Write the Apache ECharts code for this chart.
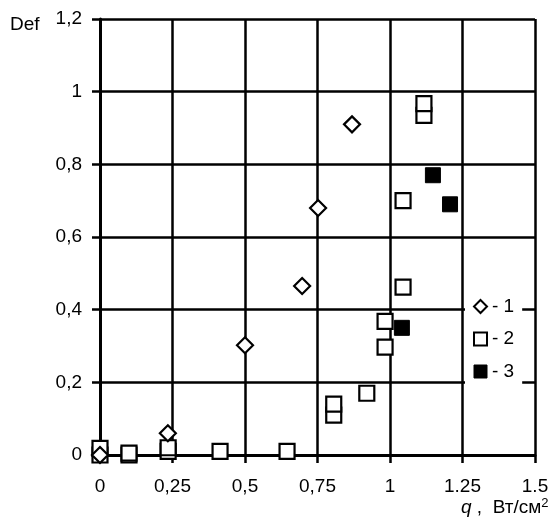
<!DOCTYPE html>
<html>
<head>
<meta charset="utf-8">
<script src="https://cdn.jsdelivr.net/npm/echarts@6/dist/echarts.min.js"></script>
<style>html,body{margin:0;padding:0;background:#fff}#c{width:558px;height:528px}</style>
</head>
<body>
<div id="c"></div>
<script>
var xTickLabels = {"0":"0","0.25":"0,25","0.5":"0,5","0.75":"0,75","1":"1","1.25":"1.25","1.5":"1.5"};
var yTickLabels = {"0":"0","0.2":"0,2","0.4":"0,4","0.6":"0,6","0.8":"0,8","1":"1","1.2":"1,2"};
var seriesNames = ["- 1","- 2","- 3"];
var series1 = [[0,0],[0.234,0.06],[0.5,0.302],[0.697,0.465],[0.752,0.68],[0.869,0.91]];
var series2 = [[0,0],[0,0.018],[0.1,0],[0.1,0.005],[0.235,0.01],[0.235,0.02],[0.414,0.01],[0.645,0.01],[0.806,0.11],[0.806,0.14],[0.92,0.17],[0.983,0.297],[0.983,0.368],[1.045,0.462],[1.045,0.70],[1.117,0.935],[1.117,0.967]];
var series3 = [[1.041,0.35],[1.148,0.77],[1.207,0.69]];

var font = "'Liberation Sans', Arial, sans-serif";
var fs = 19;
function key(v){return String(Math.round(v*100)/100);}
var chart = echarts.init(document.getElementById('c'), null, {renderer:'canvas'});
chart.setOption({
  animation:false,
  backgroundColor:'#fff',
  grid:{left:100,right:23,top:19,bottom:73,containLabel:false},
  xAxis:{
    type:'value',min:0,max:1.5,interval:0.25,
    axisLine:{show:true,onZero:false,lineStyle:{color:'#000',width:3}},
    axisTick:{show:true,inside:false,length:8,lineStyle:{color:'#000',width:2.5}},
    axisLabel:{margin:22,color:'#000',fontSize:fs,fontFamily:font,formatter:function(v){return xTickLabels[key(v)]||'';}},
    splitLine:{show:true,lineStyle:{color:'#000',width:2.5}}
  },
  yAxis:{
    type:'value',min:0,max:1.2,interval:0.2,
    axisLine:{show:true,onZero:false,lineStyle:{color:'#000',width:3}},
    axisTick:{show:true,inside:false,length:8,lineStyle:{color:'#000',width:2.5}},
    axisLabel:{margin:18,color:'#000',fontSize:fs,fontFamily:font,formatter:function(v){return yTickLabels[key(v)]||'';}},
    splitLine:{show:true,lineStyle:{color:'#000',width:2.5}}
  },
  legend:{
    orient:'vertical',left:465,top:289,padding:[8,8,8,8],
    backgroundColor:'#fff',itemWidth:13,itemHeight:13,itemGap:13.5,
    textStyle:{color:'#000',fontSize:fs,fontFamily:font,lineHeight:19},
    data:[
      {name:seriesNames[0],icon:'diamond',itemStyle:{color:'#fff',borderColor:'#000',borderWidth:2,opacity:1}},
      {name:seriesNames[1],icon:'rect',itemStyle:{color:'#fff',borderColor:'#000',borderWidth:2,opacity:1}},
      {name:seriesNames[2],icon:'rect',itemStyle:{color:'#000',borderColor:'#000',borderWidth:1,opacity:1}}
    ]
  },
  graphic:[
    {type:'text',left:10,top:15,style:{text:'Def',fill:'#000',font:fs+'px '+font}},
    {type:'text',left:461,top:497,style:{
      text:'{i|q} ,  Вт/см{s|2}',
      rich:{
        i:{fontStyle:'italic',fontSize:fs,fontFamily:font,fill:'#000'},
        s:{fontSize:13,fontFamily:font,fill:'#000',verticalAlign:'top',padding:[0,0,9,0]}
      },
      fill:'#000',font:fs+'px '+font
    }}
  ],
  series:[
    {name:seriesNames[0],type:'scatter',data:series1,symbol:'diamond',symbolSize:[16,16],z:4,
     itemStyle:{color:'#fff',borderColor:'#000',borderWidth:2.2,opacity:1}},
    {name:seriesNames[1],type:'scatter',data:series2,symbol:'rect',symbolSize:15,z:3,
     itemStyle:{color:'#fff',borderColor:'#000',borderWidth:2.2,opacity:1}},
    {name:seriesNames[2],type:'scatter',data:series3,symbol:'rect',symbolSize:15,z:3,
     itemStyle:{color:'#000',borderColor:'#000',borderWidth:1,opacity:1}}
  ]
});
</script>
</body>
</html>
